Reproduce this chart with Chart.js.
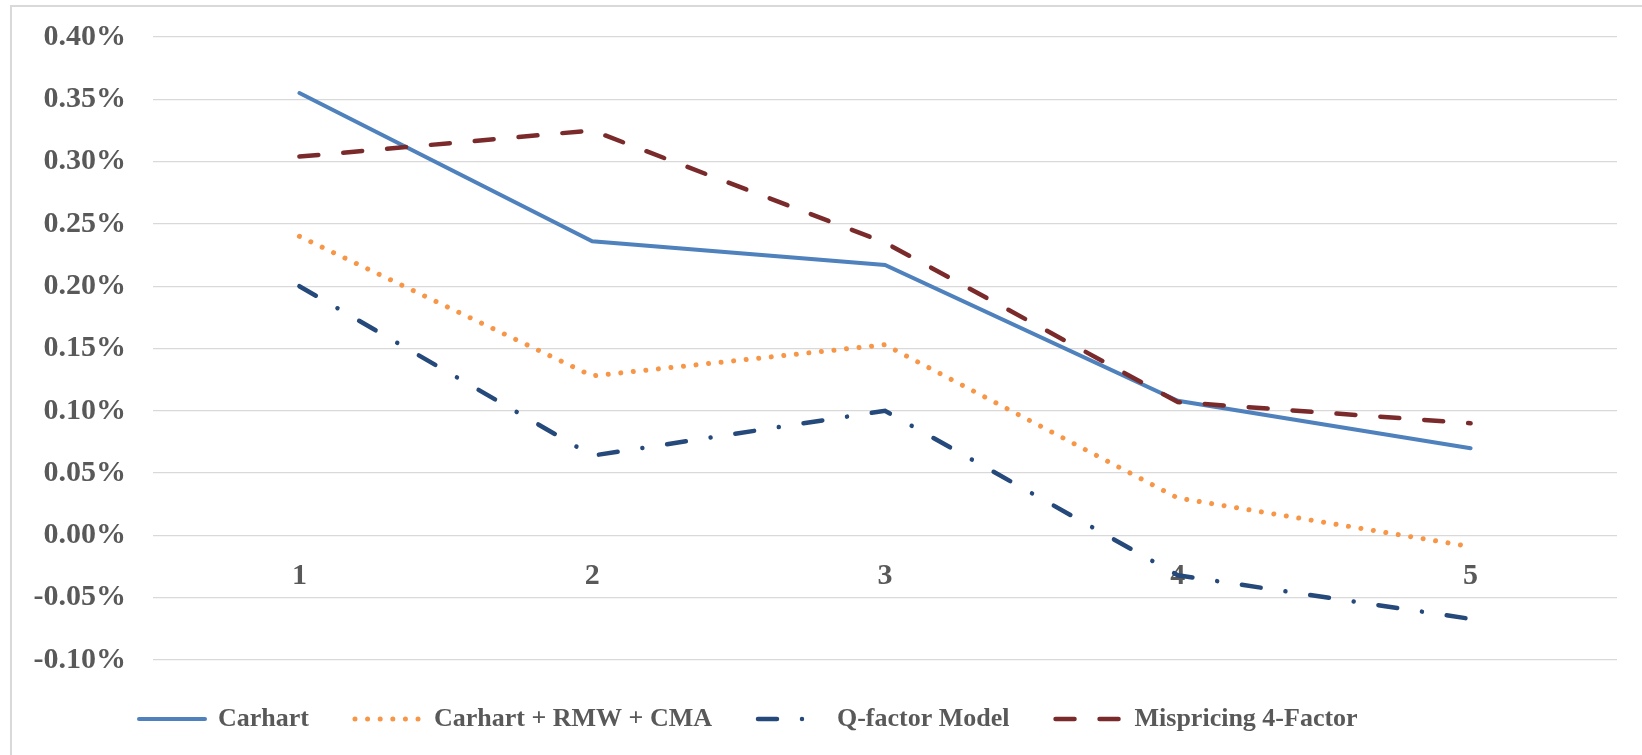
<!DOCTYPE html>
<html>
<head>
<meta charset="utf-8">
<title>Alphas by quintile</title>
<script src="https://cdn.jsdelivr.net/npm/chart.js@4/dist/chart.umd.min.js"></script>
<style>
    html, body {
        margin: 0;
        padding: 0;
        background: #ffffff;
        overflow: hidden;
    }
    .chart-wrapper {
        position: relative;
        width: 1642px;
        height: 755px;
    }
    /* light frame, only left and top edges are visible */
    .frame {
        position: absolute;
        left: 10px;
        top: 5px;
        width: 1700px;
        height: 800px;
        border-left: 2px solid #d9d9d9;
        border-top: 2px solid #d9d9d9;
    }
    #myChart {
        position: absolute;
        left: 0;
        top: 0;
    }
</style>
</head>
<body>
<div class="chart-wrapper">
    <div class="frame"></div>
    <canvas id="myChart" width="1642" height="755"></canvas>
</div>

<script>
// categories (portfolios)
const categories = ['1', '2', '3', '4', '5'];

// series values, in percent
const carhart = [0.355, 0.236, 0.217, 0.108, 0.070];
const carhartRmwCma = [0.240, 0.128, 0.153, 0.030, -0.009];
const qFactor = [0.200, 0.064, 0.100, -0.032, -0.067];
const mispricing = [0.304, 0.325, 0.235, 0.107, 0.090];

// y axis
const yMin = -0.10;
const yMax = 0.40;
const yStep = 0.05;

const serif = "'Liberation Serif', 'Times New Roman', serif";
const labelFont = { family: serif, weight: 'bold', size: 30 };
const textColor = '#595959';

const ctx = document.getElementById('myChart');

const data = {
    labels: categories,
    datasets: [
        {
            label: 'Carhart',
            data: carhart,
            borderColor: '#4f81bd',
            borderWidth: 4,
            borderCapStyle: 'round',
            order: 4
        },
        {
            label: 'Carhart + RMW + CMA',
            data: carhartRmwCma,
            borderColor: '#f79646',
            borderWidth: 5,
            borderDash: [0.01, 12.6],
            borderCapStyle: 'round',
            order: 3
        },
        {
            label: 'Q-factor Model',
            data: qFactor,
            borderColor: '#24497a',
            borderWidth: 4.5,
            borderDash: [19, 25, 0.01, 25],
            borderCapStyle: 'round',
            order: 2
        },
        {
            label: 'Mispricing 4-Factor',
            data: mispricing,
            borderColor: '#7a2a2a',
            borderWidth: 4.5,
            borderDash: [19, 25],
            borderCapStyle: 'round',
            order: 1
        }
    ]
};

// legend items keep the dash of each line and the dataset order
const legendItems = (chart) => chart.data.datasets.map((ds, i) => ({
    text: ds.label,
    datasetIndex: i,
    fillStyle: ds.borderColor,
    strokeStyle: ds.borderColor,
    fontColor: textColor,
    lineWidth: ds.borderWidth,
    lineDash: ds.borderDash || [],
    lineCap: 'round',
    pointStyle: 'line',
    hidden: false
}));

// legend starts a bit right of the y labels, like the reference
const legendShift = {
    id: 'legendShift',
    afterLayout(chart) {
        const shift = 68;
        chart.legend.left += shift;
        chart.legend.right += shift;
    }
};

new Chart(ctx, {
    type: 'line',
    data: data,
    plugins: [legendShift],
    options: {
        responsive: false,
        animation: false,
        devicePixelRatio: 1,
        layout: {
            padding: { left: 25, right: 25, top: 37, bottom: 13 }
        },
        elements: {
            point: { radius: 0, hoverRadius: 0 },
            line: { tension: 0, fill: false }
        },
        scales: {
            x: {
                type: 'category',
                offset: true,
                position: { y: 0 },
                grid: { display: false, drawTicks: false },
                border: { display: false },
                ticks: {
                    color: textColor,
                    font: labelFont,
                    padding: 23,
                    maxRotation: 0
                }
            },
            y: {
                min: yMin,
                max: yMax,
                // invisible tick marks give the gap between labels and plot
                grid: { color: '#d9d9d9', lineWidth: 1.3, drawTicks: true, tickLength: 26, tickColor: 'rgba(0,0,0,0)' },
                border: { display: false },
                ticks: {
                    stepSize: yStep,
                    color: textColor,
                    font: labelFont,
                    padding: 1,
                    callback: (value) => value.toFixed(2) + '%'
                },
                // plot area starts at x = 153
                afterFit: (scale) => {
                    scale.width = 128;
                }
            }
        },
        plugins: {
            legend: {
                display: true,
                position: 'bottom',
                align: 'start',
                labels: {
                    usePointStyle: true,
                    pointStyle: 'line',
                    pointStyleWidth: 66,
                    padding: 46,
                    color: textColor,
                    font: { family: serif, weight: 'bold', size: 26 },
                    generateLabels: legendItems
                }
            },
            tooltip: { enabled: false },
            title: { display: false }
        }
    }
});
</script>
</body>
</html>
